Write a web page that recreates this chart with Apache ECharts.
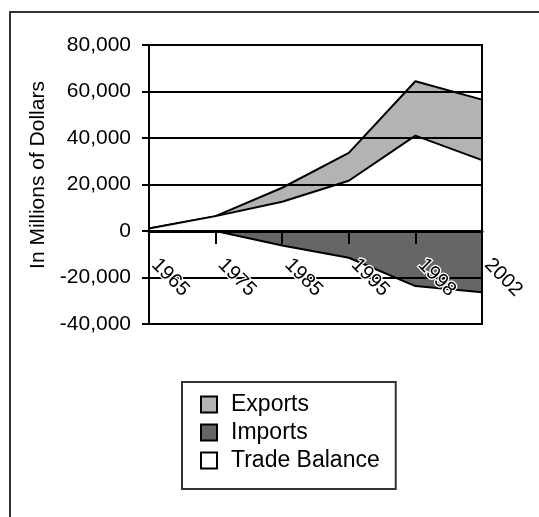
<!DOCTYPE html>
<html>
<head>
<meta charset="utf-8">
<script src="https://cdn.jsdelivr.net/npm/echarts@6/dist/echarts.min.js"></script>
<style>
html,body{margin:0;padding:0;background:#fff;}
#chart{width:539px;height:517px;}
</style>
</head>
<body>
<div id="chart"></div>
<script>
const years = ['1965', '1975', '1985', '1995', '1998', '2002'];
const exportsData = [1100, 6400, 18600, 33600, 64400, 56500];
const importsData = [0, 0, -6200, -11500, -23700, -26300];
const balanceData = [1100, 6400, 12600, 21600, 41000, 30500];
const yTicks = { min: -40000, max: 80000, interval: 20000 };
const yAxisTitle = 'In Millions of Dollars';

const FONT = 'Liberation Sans, Arial, Helvetica, sans-serif';
const chart = echarts.init(document.getElementById('chart'), null, { renderer: 'canvas' });

function areaSeries(name, data, fill, z) {
  return {
    name: name,
    type: 'line',
    data: data,
    symbol: 'none',
    showSymbol: false,
    silent: true,
    z: z,
    itemStyle: { color: fill, borderColor: '#000', borderWidth: 1.5 },
    lineStyle: { color: '#000', width: 2 },
    areaStyle: { color: fill, opacity: 1 }
  };
}

chart.setOption({
  animation: false,
  backgroundColor: '#fff',
  textStyle: { fontFamily: FONT },
  grid: {
    left: 149, right: 57, top: 45, bottom: 193,
    show: true, borderColor: '#000', borderWidth: 2, backgroundColor: 'transparent', z: 6
  },
  graphic: [
    {
      type: 'rect', silent: true, z: 0,
      shape: { x: 10, y: 12, width: 700, height: 700 },
      style: { fill: 'none', stroke: '#333', lineWidth: 2 }
    },
    {
      type: 'text', silent: true, z: 10,
      x: 38.5, y: 175, rotation: Math.PI / 2,
      style: {
        text: yAxisTitle, fill: '#000', font: '21px ' + FONT,
        align: 'center', verticalAlign: 'middle'
      }
    }
  ],
  legend: {
    orient: 'vertical',
    left: 182, top: 382,
    data: ['Exports', 'Imports', 'Trade Balance'],
    icon: 'rect',
    itemWidth: 16, itemHeight: 16, itemGap: 5,
    padding: [11, 16, 17, 18],
    borderColor: '#333', borderWidth: 2,
    itemStyle: { borderColor: '#000', borderWidth: 2 },
    textStyle: { fontFamily: FONT, fontSize: 23, color: '#000', lineHeight: 23, padding: [0, 0, 0, 9] },
    selectedMode: false
  },
  xAxis: {
    type: 'category',
    data: years,
    boundaryGap: false,
    z: 8,
    axisLine: { onZero: true, lineStyle: { color: '#000', width: 3 } },
    axisTick: { show: true, length: 13, inside: false, alignWithLabel: true, lineStyle: { color: '#000', width: 2 } },
    axisLabel: {
      rotate: -45, margin: -68, padding: [0, 0, 0, 8],
      fontFamily: FONT, fontSize: 20, color: '#000',
      textBorderColor: '#fff', textBorderWidth: 2.5,
      interval: 0
    },
    splitLine: { show: false }
  },
  yAxis: {
    type: 'value',
    min: yTicks.min, max: yTicks.max, interval: yTicks.interval,
    z: 7,
    axisLine: { show: true, lineStyle: { color: '#000', width: 2 } },
    axisTick: { show: true, length: 7, lineStyle: { color: '#000', width: 2 } },
    axisLabel: {
      margin: 18, fontFamily: FONT, fontSize: 21, color: '#000',
      formatter: function (v) { return v.toLocaleString('en-US'); }
    },
    splitLine: { show: true, lineStyle: { color: '#000', width: 2 } }
  },
  series: [
    areaSeries('Exports', exportsData, '#b3b3b3', 2),
    areaSeries('Trade Balance', balanceData, '#ffffff', 3),
    areaSeries('Imports', importsData, '#666666', 4)
  ]
});
</script>
</body>
</html>
